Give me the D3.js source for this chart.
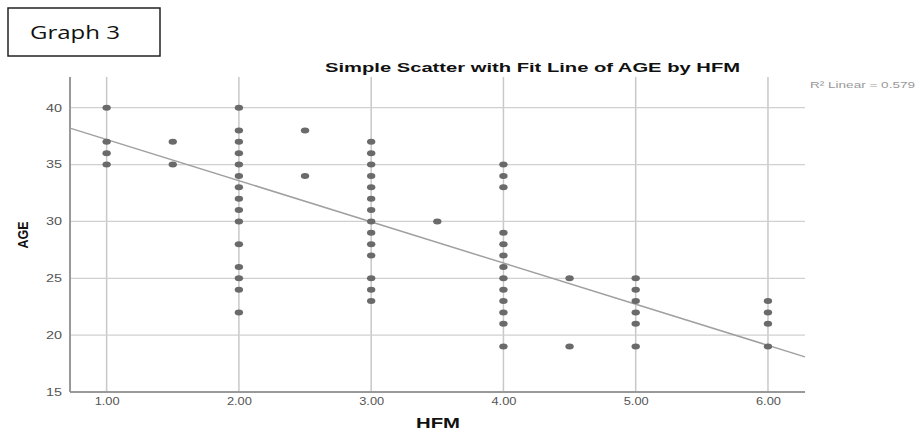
<!DOCTYPE html>
<html>
<head>
<meta charset="utf-8">
<script src="https://cdn.jsdelivr.net/npm/d3@7"></script>
<style>
  body { margin: 0; background: #fff; }
  svg { display: block; }
</style>
</head>
<body>
<svg id="chart"></svg>
<script>
// values
let hfmLevels = [1, 1.5, 2, 2.5, 3, 3.5, 4, 4.5, 5, 6]
let agesAt = [
    [40, 37, 36, 35],
    [37, 35],
    [40, 38, 37, 36, 35, 34, 33, 32, 31, 30, 28, 26, 25, 24, 22],
    [38, 34],
    [37, 36, 35, 34, 33, 32, 31, 30, 29, 28, 27, 25, 24, 23],
    [30],
    [35, 34, 33, 29, 28, 27, 26, 25, 24, 23, 22, 21, 19],
    [25, 19],
    [25, 24, 23, 22, 21, 19],
    [23, 22, 21, 19]
]
let xTicks = [1, 2, 3, 4, 5, 6]
let yTicks = [15, 20, 25, 30, 35, 40]
let fit = {intercept: 40.82, slope: -3.62, r2: 0.579}

let points = hfmLevels.flatMap((h, i) => agesAt[i].map(a => ({hfm: h, age: a})))

let w = 917, h = 430
let m = {t: 77, r: 112, b: 38, l: 70}
let font = 'Liberation Sans, Arial, sans-serif'

let svg = d3.select('#chart').attr('width', w).attr('height', h)

let x = d3.scaleLinear().domain([0.723, 6.28]).range([m.l, w - m.r])
let y = d3.scaleLinear().domain([15, 42.7]).range([h - m.b, m.t])

// "Graph 3" box
svg.append('rect')
    .attr('x', 8).attr('y', 8).attr('width', 152).attr('height', 48)
    .attr('fill', 'none').attr('stroke', '#222').attr('stroke-width', 1.5)
svg.append('text')
    .attr('x', 30).attr('y', 39)
    .attr('font-family', 'Open Sans, sans-serif').attr('font-size', 19)
    .attr('textLength', 90).attr('lengthAdjust', 'spacingAndGlyphs')
    .attr('fill', '#111')
    .text('Graph 3')

// grid
svg.append('g')
    .selectAll('line')
    .data(xTicks)
    .join('line')
    .attr('x1', d => x(d)).attr('x2', d => x(d))
    .attr('y1', m.t).attr('y2', h - m.b)
    .attr('stroke', '#c8c8c8').attr('stroke-width', 1.5)

svg.append('g')
    .selectAll('line')
    .data(yTicks.filter(d => d > 15))
    .join('line')
    .attr('x1', m.l).attr('x2', w - m.r)
    .attr('y1', d => y(d)).attr('y2', d => y(d))
    .attr('stroke', '#d0d0d0').attr('stroke-width', 1.2)

// axes
let xAxis = svg.append('g')
    .attr('transform', `translate(0, ${h - m.b})`)
    .call(d3.axisBottom(x).tickValues(xTicks).tickFormat(d3.format('.2f')).tickSize(0).tickPadding(6))
let yAxis = svg.append('g')
    .attr('transform', `translate(${m.l}, 0)`)
    .call(d3.axisLeft(y).tickValues(yTicks).tickSize(0).tickPadding(8))

for (let ax of [xAxis, yAxis]) {
    ax.select('.domain').attr('stroke', '#999').attr('stroke-width', 2)
    ax.selectAll('text')
        .attr('font-family', font)
        .attr('font-size', 10.5)
        .attr('lengthAdjust', 'spacingAndGlyphs')
        .attr('fill', '#555')
}
xAxis.selectAll('text').attr('textLength', 25)
yAxis.selectAll('text').attr('textLength', 16)
xAxis.select('.domain').attr('d', `M${m.l},0H${w - m.r}`)
yAxis.select('.domain').attr('d', `M0,${m.t}V${h - m.b}`)

// fit line
let x0 = x.domain()[0], x1 = x.domain()[1]
svg.append('path')
    .datum([x0, x1])
    .attr('fill', 'none')
    .attr('stroke', '#a0a0a0')
    .attr('stroke-width', 1.5)
    .attr('d', d3.line().x(d => x(d)).y(d => y(fit.intercept + fit.slope * d)))

// points
svg.append('g')
    .selectAll('ellipse')
    .data(points)
    .join('ellipse')
    .attr('cx', d => x(d.hfm))
    .attr('cy', d => y(d.age))
    .attr('rx', 4.2).attr('ry', 3)
    .attr('fill', '#6a6a6a')

// titles
svg.append('text')
    .attr('x', 325).attr('y', 72)
    .attr('font-family', font)
    .attr('font-weight', 'bold').attr('font-size', 13)
    .attr('textLength', 415).attr('lengthAdjust', 'spacingAndGlyphs')
    .attr('fill', '#111')
    .text('Simple Scatter with Fit Line of AGE by HFM')

svg.append('text')
    .attr('x', 810).attr('y', 88)
    .attr('font-family', font)
    .attr('font-size', 9.5)
    .attr('textLength', 105).attr('lengthAdjust', 'spacingAndGlyphs')
    .attr('fill', '#999')
    .text('R² Linear = ' + fit.r2)

svg.append('text')
    .attr('x', 416).attr('y', 428)
    .attr('font-family', font)
    .attr('font-weight', 'bold').attr('font-size', 14)
    .attr('textLength', 44).attr('lengthAdjust', 'spacingAndGlyphs')
    .attr('fill', '#111')
    .text('HFM')

svg.append('text')
    .attr('transform', `translate(28, 235) rotate(-90)`)
    .attr('text-anchor', 'middle')
    .attr('font-family', font)
    .attr('font-weight', 'bold').attr('font-size', 15)
    .attr('textLength', 27).attr('lengthAdjust', 'spacingAndGlyphs')
    .attr('fill', '#111')
    .text('AGE')
</script>
</body>
</html>
